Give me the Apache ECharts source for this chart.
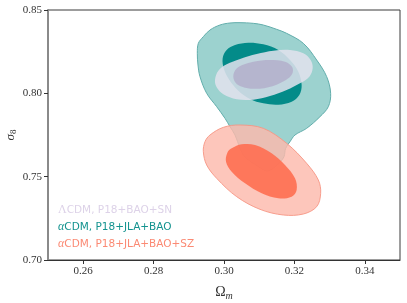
<!DOCTYPE html>
<html>
<head>
<meta charset="utf-8">
<script src="https://cdn.jsdelivr.net/npm/echarts@6/dist/echarts.min.js"></script>
<style>html,body{margin:0;padding:0;background:#fff}#c{width:407px;height:303px}</style>
</head>
<body>
<div id="c"></div>
<script>
// ---- data (Omega_m, sigma_8) contour outlines ----
const xTicks = [0.26, 0.28, 0.30, 0.32, 0.34];
const yTicks = [0.70, 0.75, 0.80, 0.85];
const legendLabels = ['ΛCDM, P18+BAO+SN', 'αCDM, P18+JLA+BAO', 'αCDM, P18+JLA+BAO+SZ'];

const tealOuter = [
  [0.29242,0.824],[0.29271,0.830],[0.29413,0.834],[0.29602,0.838],[0.29886,0.841],
  [0.30170,0.8422],[0.30455,0.8424],[0.30833,0.842],[0.31117,0.841],[0.31496,0.8384],
  [0.31780,0.836],[0.32254,0.830],[0.32633,0.820],[0.32917,0.810],[0.33030,0.800],
  [0.32964,0.792],[0.32727,0.786],[0.32348,0.779],[0.32017,0.775],[0.31875,0.771],
  [0.31752,0.767],[0.31705,0.762],[0.31591,0.7586],[0.31402,0.755],[0.31212,0.7534],
  [0.31070,0.7548],[0.30909,0.757],[0.30691,0.760],[0.30549,0.763],[0.30455,0.767],
  [0.30313,0.775],[0.30170,0.780],[0.30028,0.785],[0.29792,0.792],[0.29508,0.800],
  [0.29318,0.810],[0.29261,0.817]
];
const tealInner = [
  [0.29962,0.821],[0.30076,0.826],[0.30313,0.829],[0.30691,0.8304],[0.31117,0.8294],
  [0.31544,0.826],[0.31875,0.820],[0.32112,0.813],[0.32206,0.805],[0.32140,0.799],
  [0.31922,0.795],[0.31544,0.7932],[0.31117,0.794],[0.30739,0.7966],[0.30407,0.8016],
  [0.30152,0.808],[0.30000,0.8144]
];
const lcdmOuter = [
  [0.29744,0.808],[0.29839,0.8136],[0.30076,0.8174],[0.30455,0.8206],[0.30928,0.8236],
  [0.31402,0.8256],[0.31875,0.826],[0.32254,0.824],[0.32462,0.820],[0.32519,0.815],
  [0.32424,0.810],[0.32159,0.806],[0.31780,0.802],[0.31307,0.7984],[0.30833,0.7962],
  [0.30360,0.7964],[0.29981,0.7994],[0.29792,0.8036]
];
const lcdmInner = [
  [0.30265,0.8096],[0.30322,0.814],[0.30502,0.8168],[0.30833,0.819],[0.31307,0.820],
  [0.31733,0.819],[0.31932,0.816],[0.31951,0.8124],[0.31828,0.809],[0.31496,0.8052],
  [0.31023,0.8028],[0.30597,0.8034],[0.30360,0.8056]
];
const szOuter = [
  [0.29413,0.765],[0.29460,0.771],[0.29602,0.775],[0.29981,0.7796],[0.30455,0.781],
  [0.31117,0.779],[0.31780,0.770],[0.32348,0.758],[0.32680,0.748],[0.32746,0.740],
  [0.32633,0.732],[0.32254,0.7276],[0.31686,0.727],[0.31023,0.7304],[0.30360,0.738],
  [0.29792,0.749],[0.29508,0.757]
];
const szInner = [
  [0.30057,0.759],[0.30095,0.7644],[0.30218,0.767],[0.30502,0.7694],[0.30881,0.769],
  [0.31354,0.764],[0.31733,0.757],[0.32017,0.749],[0.32064,0.742],[0.31922,0.738],
  [0.31544,0.737],[0.31070,0.740],[0.30597,0.746],[0.30218,0.753]
];

function contour(name, pts, fill, stroke, z) {
  return {
    type: 'custom', name: name, z: z, silent: true,
    data: pts,
    renderItem: function (params, api) {
      if (params.dataIndex !== 0) return null;
      return {
        type: 'polygon',
        shape: { points: pts.map(p => api.coord(p)), smooth: 0.35 },
        style: { fill: fill, stroke: stroke || null, lineWidth: stroke ? 1 : 0 }
      };
    }
  };
}

const chart = echarts.init(document.getElementById('c'), null, { renderer: 'canvas' });
const serif = 'Liberation Serif';
chart.setOption({
  animation: false,
  grid: { left: 48, right: 7, top: 10, bottom: 43, containLabel: false, outerBoundsMode: 'none',
          show: true, borderColor: '#3a3a3a', borderWidth: 1, backgroundColor: 'transparent' },
  xAxis: {
    type: 'value', min: 0.25, max: 0.35,
    splitLine: { show: false },
    axisLine: { show: true, onZero: false, lineStyle: { color: '#333', width: 1 } },
    axisTick: { show: true, length: 4, customValues: xTicks, lineStyle: { color: '#333' } },
    axisLabel: { customValues: xTicks, margin: 6, color: '#333', fontFamily: serif, fontSize: 11, formatter: v => v.toFixed(2) },
    name: '{a|Ω}{b|m}', nameLocation: 'middle', nameGap: 24,
    nameTextStyle: { rich: { a: { fontFamily: serif, fontSize: 14, color: '#333' }, b: { fontFamily: serif, fontStyle: 'italic', fontSize: 10, color: '#333', padding: [7, 0, 0, 0] } } }
  },
  yAxis: {
    type: 'value', min: 0.70, max: 0.85,
    splitLine: { show: false },
    axisLine: { show: true, onZero: false, lineStyle: { color: '#8a8a8a', width: 2 } },
    axisTick: { show: true, length: 4, customValues: yTicks, lineStyle: { color: '#333' } },
    axisLabel: { customValues: yTicks, margin: 6, color: '#333', fontFamily: serif, fontSize: 11, formatter: v => v.toFixed(2) },
    name: '{a|σ}{b|8}', nameLocation: 'middle', nameGap: 30, nameRotate: 90, nameMoveOverlap: false,
    nameTextStyle: { rich: { a: { fontFamily: serif, fontStyle: 'italic', fontSize: 13, color: '#333' }, b: { fontFamily: serif, fontSize: 9, color: '#333', padding: [6, 0, 0, 0] } } }
  },
  series: [
    contour('tealOuter', tealOuter, '#9cd2cf', '#62adab', 1),
    contour('tealInner', tealInner, '#038b89', null, 2),
    contour('szOuter', szOuter, 'rgba(252,186,172,0.82)', 'rgba(246,150,132,0.9)', 3),
    contour('szInner', szInner, 'rgba(255,108,78,0.88)', null, 4),
    contour('lcdmOuter', lcdmOuter, 'rgba(226,226,238,0.86)', null, 5),
    contour('lcdmInner', lcdmInner, 'rgba(180,177,204,0.9)', null, 6)
  ],
  graphic: legendLabels.map((t, i) => {
    const colors = ['#ddd2e8', '#14938f', '#fb8a74'];
    const g = t.charAt(0);
    return {
      type: 'text', left: 58, top: 204 + i * 17, z: 10, silent: true,
      style: {
        text: '{g|' + g + '}{t|' + t.slice(1) + '}',
        rich: {
          g: { fontFamily: serif, fontStyle: g === 'α' ? 'italic' : 'normal', fontSize: 12, fill: colors[i] },
          t: { fontFamily: 'DejaVu Sans', fontSize: 10.5, fill: colors[i] }
        }
      }
    };
  })
});
</script>
</body>
</html>
